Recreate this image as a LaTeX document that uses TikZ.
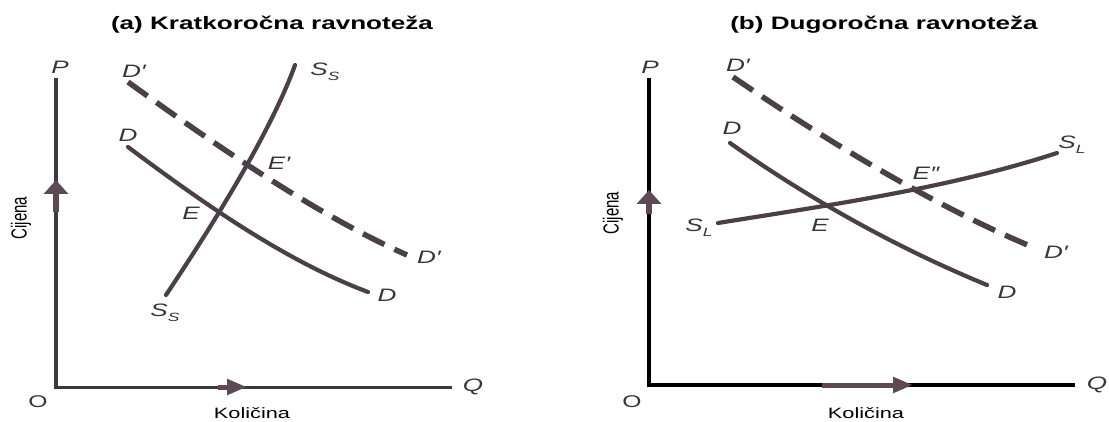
\documentclass[tikz,border=0pt]{standalone}
\usepackage{graphicx}
\usepackage{fontspec}
\setmainfont{Liberation Sans}
\usetikzlibrary{arrows.meta}
\definecolor{curvec}{HTML}{4B4047}
\definecolor{arrc}{HTML}{5E4A55}
\definecolor{axac}{HTML}{3A3A3A}
\newcommand{\wide}[1]{\scalebox{1.45}[1]{#1}}
\newcommand{\mysub}[1]{\raisebox{-0.3em}{\fontsize{12}{12}\selectfont #1}}
\begin{document}
\begin{tikzpicture}[x=1pt,y=-1pt,
  lbl/.style={font=\fontsize{18}{18}\selectfont\itshape, text=curvec!80!black, inner sep=0pt},
  ttl/.style={font=\fontsize{18}{18}\selectfont\bfseries, inner sep=0pt},
  axl/.style={font=\fontsize{15}{15}\selectfont, inner sep=0pt},
  crv/.style={draw=curvec, line width=4.2pt},
  dsh/.style={draw=curvec, line width=5.5pt, dash pattern=on 24pt off 11pt},
  axva/.style={draw=axac, line width=3.6pt},
  axha/.style={draw=axac, line width=3pt},
  axvb/.style={draw=black, line width=4.5pt},
  axhb/.style={draw=black, line width=3.4pt},
  uparr/.style={draw=arrc, line width=6pt, -{Triangle[width=24pt,length=14pt]}},
  rtarr/.style={draw=arrc, line width=5pt, -{Triangle[width=15pt,length=20pt]}}]
\useasboundingbox (0,0) rectangle (1109,422);

% ---------- panel (a) ----------
\node[ttl] (ta) at (272,25) {\wide{(a) Kratkoročna ravnoteža}};
\coordinate (aO) at (56,387);
\coordinate (aP) at (56,78);
\coordinate (aQ) at (452,387);
\draw[axva] (aP) -- (aO);
\draw[axha] ([xshift=-1.8pt]aO) -- (aQ);
\coordinate (aua) at (56,212);
\coordinate (aub) at (56,180);
\draw[uparr] (aua) -- (aub);
\coordinate (ara) at (218,387);
\coordinate (arb) at (247,387);
\draw[rtarr] (ara) -- (arb);

\coordinate (aD1) at (128,147);
\coordinate (aD2) at (368,292);
\draw[crv, line cap=round] (aD1) .. controls (208,207) and (288,262) .. (aD2);
\coordinate (aS1) at (166,295);
\coordinate (aS2) at (295,65);
\draw[crv, line cap=round] (aS1) .. controls (206,235) and (270,135) .. (aS2);
\coordinate (aDp1) at (128,82);
\coordinate (aDp2) at (407,255);
\draw[dsh] (aDp1) .. controls (218,147) and (317,215) .. (aDp2);

\node[lbl] (aPl) at (60,67) {\wide{P}};
\node[lbl] (aQl) at (473,387) {\wide{Q}};
\node[lbl, font=\fontsize{17}{17}\selectfont] (aOl) at (38,402) {\wide{O}};
\node[axl] (akol) at (252,413) {\wide{Količina}};
\node[axl] (acij) at (21,218) {\scalebox{1.45}[1]{\rotatebox{90}{Cijena}}};
\node[lbl] (aDpt) at (134,71) {\wide{D′}};
\node[lbl] (aSt) at (325,72) {\wide{S\mysub{S}}};
\node[lbl] (aDt) at (128,135) {\wide{D}};
\node[lbl] (aEp) at (279,163) {\wide{E′}};
\node[lbl] (aE) at (191,213) {\wide{E}};
\node[lbl] (aDpr) at (429,257) {\wide{D′}};
\node[lbl] (aDr) at (387,295) {\wide{D}};
\node[lbl] (aSb) at (165,313) {\wide{S\mysub{S}}};

% ---------- panel (b) ----------
\node[ttl] (tb) at (884,25) {\wide{(b) Dugoročna ravnoteža}};
\coordinate (bO) at (649,385);
\coordinate (bP) at (649,78);
\coordinate (bQ) at (1075,385);
\draw[axvb] (bP) -- (bO);
\draw[axhb] ([xshift=-2.25pt]bO) -- (bQ);
\coordinate (bua) at (649,214);
\coordinate (bub) at (649,190);
\draw[uparr] (bua) -- (bub);
\coordinate (bra) at (822,385);
\coordinate (brb) at (913,385);
\draw[rtarr] (bra) -- (brb);

\coordinate (bD1) at (730,143);
\coordinate (bD2) at (987,285);
\draw[crv, line cap=round] (bD1) .. controls (815,203) and (902,250) .. (bD2);
\coordinate (bS1) at (718,223);
\coordinate (bS2) at (1057,153);
\draw[crv, line cap=round] (bS1) .. controls (830,205) and (950,188) .. (bS2);
\coordinate (bDp1) at (733,77);
\coordinate (bDp2) at (1030,246);
\draw[dsh] (bDp1) .. controls (828,142) and (935,206) .. (bDp2);

\node[lbl] (bPl) at (650,67) {\wide{P}};
\node[lbl] (bQl) at (1097,385) {\wide{Q}};
\node[lbl, font=\fontsize{17}{17}\selectfont] (bOl) at (632,402) {\wide{O}};
\node[axl] (bkol) at (866,413) {\wide{Količina}};
\node[axl] (bcij) at (613,213) {\scalebox{1.45}[1]{\rotatebox{90}{Cijena}}};
\node[lbl] (bDpt) at (738,65) {\wide{D′}};
\node[lbl] (bDt) at (732,128) {\wide{D}};
\node[lbl] (bSl) at (699,228) {\wide{S\mysub{L}}};
\node[lbl] (bE) at (820,225) {\wide{E}};
\node[lbl] (bEpp) at (926,173) {\wide{E″}};
\node[lbl] (bSr) at (1072,145) {\wide{S\mysub{L}}};
\node[lbl] (bDpr) at (1056,252) {\wide{D′}};
\node[lbl] (bDr) at (1007,292) {\wide{D}};
\end{tikzpicture}
\end{document}
